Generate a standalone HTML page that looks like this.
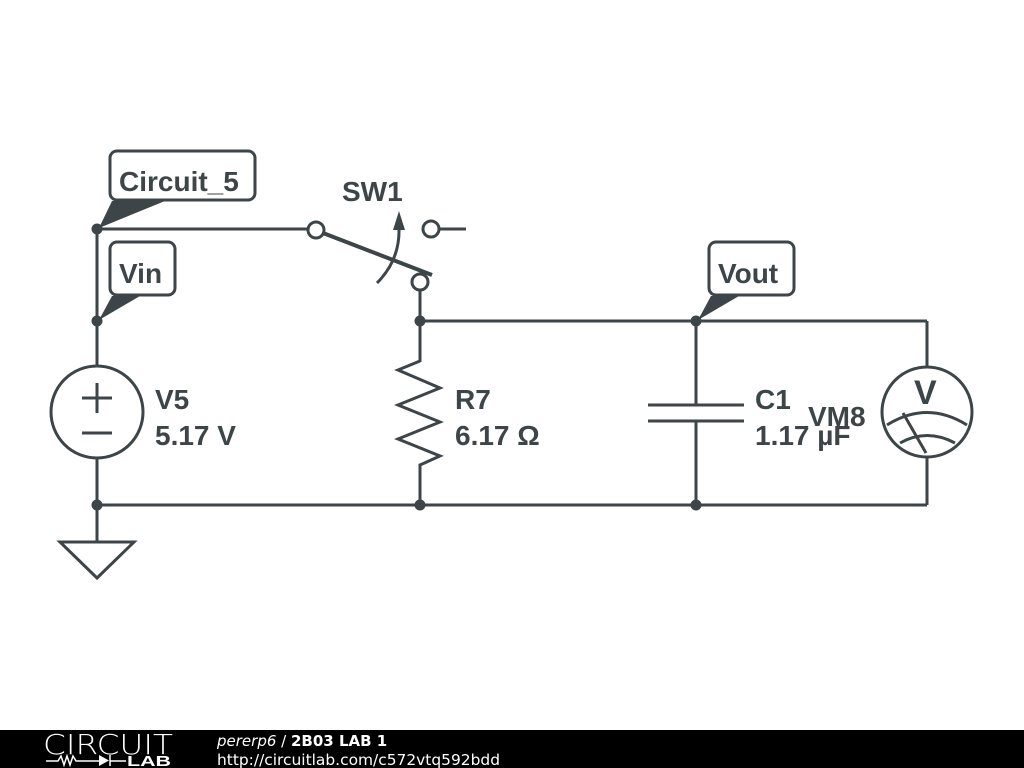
<!DOCTYPE html>
<html><head><meta charset="utf-8"><style>
html,body{margin:0;padding:0;background:#fff;width:1024px;height:768px;overflow:hidden}
</style></head><body>
<svg width="1024" height="768" viewBox="0 0 1024 768" xmlns="http://www.w3.org/2000/svg" font-family="Liberation Sans, sans-serif">
<g stroke="#3d4549" stroke-width="3" fill="none" stroke-linecap="butt">
<line x1="97" y1="229" x2="97" y2="366"/>
<line x1="97" y1="458" x2="97" y2="542"/>
<circle cx="97" cy="412" r="46"/>
<line x1="82" y1="398" x2="112" y2="398"/><line x1="97" y1="383" x2="97" y2="413"/>
<line x1="82" y1="433" x2="112" y2="433"/>
<polygon points="60,542 134,542 97,578" stroke-linejoin="miter"/>
<line x1="97" y1="229" x2="308" y2="229"/>
<circle cx="316" cy="230" r="8" fill="#fff"/>
<line x1="323" y1="233" x2="432" y2="275" stroke-width="4"/>
<circle cx="431" cy="229" r="8" fill="#fff"/>
<line x1="439" y1="229" x2="466" y2="229"/>
<circle cx="420" cy="282" r="8" fill="#fff"/>
<path d="M377,283 Q400,260 399,228"/>
<line x1="420" y1="290" x2="420" y2="362"/>
<polyline points="420,362 420,361 398,370 440,388 398,405 440,422 398,439 440,456 420,465 420,505" stroke-linejoin="miter"/>
<line x1="420" y1="321" x2="927" y2="321"/>
<line x1="927" y1="321" x2="927" y2="367"/>
<line x1="927" y1="457" x2="927" y2="505"/>
<circle cx="927" cy="412" r="45"/>
<path d="M887,425 Q927,400 967,425"/>
<path d="M900,443 Q927,428 955,443"/>
<line x1="903" y1="413" x2="926" y2="453"/>
<line x1="648" y1="405" x2="744" y2="405"/>
<line x1="648" y1="421" x2="744" y2="421"/>
<line x1="696" y1="321" x2="696" y2="405"/>
<line x1="696" y1="421" x2="696" y2="505"/>
<line x1="97" y1="505" x2="927" y2="505"/>
<rect x="110" y="151" width="145" height="49" rx="7" fill="#fff"/>
<rect x="110" y="242" width="65" height="53" rx="7" fill="#fff"/>
<rect x="709" y="242" width="85" height="53" rx="7" fill="#fff"/>
</g>
<g fill="#3d4549">
<polygon points="99,228 112,201 165,201"/>
<polygon points="99,320 112,296 140,296"/>
<polygon points="698,320 711,296 739,296"/>
<polygon points="393,230 399,211 405,230"/>
<circle cx="97" cy="229" r="5.5"/><circle cx="97" cy="321" r="5.5"/>
<circle cx="420" cy="321" r="5.5"/><circle cx="696" cy="321" r="5.5"/>
<circle cx="97" cy="505" r="5.5"/><circle cx="420" cy="505" r="5.5"/><circle cx="696" cy="505" r="5.5"/>
</g>
<g fill="#3d4549" font-weight="bold" font-size="28">
<text x="119" y="191">Circuit_5</text>
<text x="119" y="283">Vin</text>
<text x="718" y="283">Vout</text>
<text x="342" y="201">SW1</text>
<text x="155" y="409">V5</text>
<text x="155" y="445">5.17 V</text>
<text x="455" y="409">R7</text>
<text x="455" y="445">6.17 Ω</text>
<text x="755" y="409">C1</text>
<text x="755" y="445">1.17 µF</text>
<text x="808" y="426">VM8</text>
<text x="914" y="404" font-size="34">V</text>
</g>
<rect x="0" y="730" width="1024" height="38" fill="#000"/>
<text x="43" y="754" fill="#fff" font-size="28" font-family="DejaVu Sans, sans-serif" font-weight="300" textLength="130" lengthAdjust="spacingAndGlyphs">CIRCUIT</text>
<g stroke="#fff" stroke-width="1.5" fill="none">
<polyline points="46,761 58,761 61,756 64,765 67,756 70,765 73,756 76,761 100,761"/>
<line x1="110" y1="755" x2="110" y2="766"/>
<line x1="110" y1="761" x2="126" y2="761"/>
</g>
<polygon points="99,755 99,766 109,760.5" fill="#fff"/>
<text x="127" y="766" fill="#fff" font-size="15" font-weight="bold" textLength="44" lengthAdjust="spacingAndGlyphs">LAB</text>
<text x="217" y="746" fill="#fff" font-size="15" font-family="DejaVu Sans, sans-serif"><tspan font-style="italic">pererp6</tspan> / <tspan font-weight="bold">2B03 LAB 1</tspan></text>
<text x="217" y="765" fill="#fff" font-size="15" font-family="DejaVu Sans, sans-serif" textLength="283" lengthAdjust="spacingAndGlyphs">http://circuitlab.com/c572vtq592bdd</text>
</svg>
</body></html>
